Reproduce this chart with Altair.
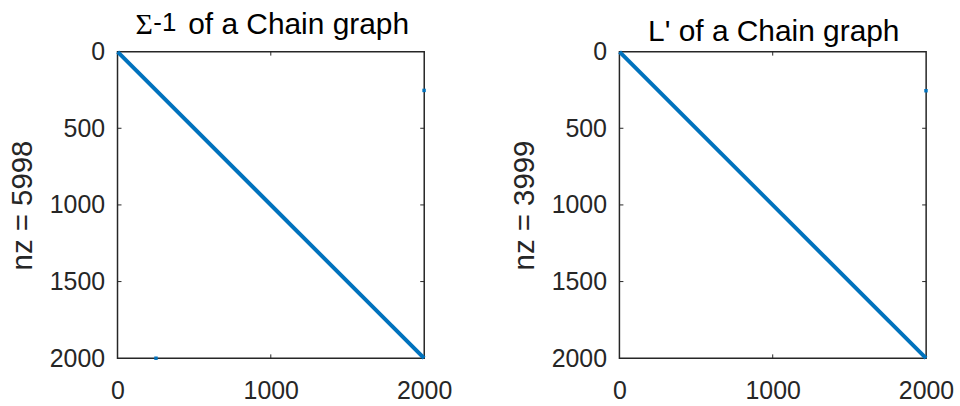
import altair as alt
import pandas as pd

N = 2000
x_ticks = [0, 1000, 2000]
y_ticks = [0, 500, 1000, 1500, 2000]
inner_x_ticks = [1000]
inner_y_ticks = [500, 1000, 1500]

# the main diagonal band of the sparsity pattern (row, column)
diag_rows = [1, 2000]
diag_cols = [1, 2000]

# isolated non-zeros
left_extra_rows = [253, 2000]
left_extra_cols = [2000, 251]
right_extra_rows = [255]
right_extra_cols = [2000]

left_nz = 5998
right_nz = 3999

W = 308
H = 308
BLUE = "#0072BD"
AX = "#262626"
SANS = "Liberation Sans"


def panel(nz, extra_rows, extra_cols, title_parts):
    xs = alt.Scale(domain=[0, N + 1], nice=False, zero=False)
    ys = alt.Scale(domain=[0, N + 1], nice=False, zero=False, reverse=True)
    xaxis = alt.Axis(values=x_ticks, ticks=False, domain=False, grid=False,
                     labelFontSize=25, labelFont=SANS, labelColor=AX,
                     labelPadding=20, labelFlush=False, labelOverlap=False,
                     title=None, format="d")
    yaxis = alt.Axis(values=y_ticks, ticks=False, domain=False, grid=False,
                     labelFontSize=25, labelFont=SANS, labelColor=AX,
                     labelPadding=13, labelFlush=False, labelOverlap=False,
                     title=f"nz = {nz}", titleFontSize=29.5, titleFont=SANS,
                     titleFontWeight="normal", titleColor=AX, titlePadding=12,
                     format="d")
    X = lambda f: alt.X(f, scale=xs, axis=xaxis)
    Y = lambda f: alt.Y(f, scale=ys, axis=yaxis)

    diag = pd.DataFrame({"col": diag_cols, "row": diag_rows})
    extra = pd.DataFrame({"col": extra_cols, "row": extra_rows})

    line = alt.Chart(diag).mark_line(color=BLUE, strokeWidth=4).encode(
        x=X("col:Q"), y=Y("row:Q"))
    dots = alt.Chart(extra).mark_square(color=BLUE, size=12, opacity=1).encode(
        x=X("col:Q"), y=Y("row:Q"))

    xt = pd.DataFrame({"v": inner_x_ticks})
    yt = pd.DataFrame({"v": inner_y_ticks})
    t1 = alt.Chart(xt).mark_rule(color=AX, strokeWidth=1).encode(
        x=X("v:Q"), y=alt.value(0), y2=alt.value(4))
    t2 = alt.Chart(xt).mark_rule(color=AX, strokeWidth=1).encode(
        x=X("v:Q"), y=alt.value(H - 4), y2=alt.value(H))
    t3 = alt.Chart(yt).mark_rule(color=AX, strokeWidth=1).encode(
        y=Y("v:Q"), x=alt.value(0), x2=alt.value(4))
    t4 = alt.Chart(yt).mark_rule(color=AX, strokeWidth=1).encode(
        y=Y("v:Q"), x=alt.value(W - 4), x2=alt.value(W))

    layers = [line, dots, t1, t2, t3, t4]
    for text, font, size, px, py, align in title_parts:
        layers.append(
            alt.Chart(pd.DataFrame({"t": [text]})).mark_text(
                font=font, fontSize=size, align=align, baseline="alphabetic",
                color="#000000").encode(
                text="t:N", x=alt.value(px), y=alt.value(py)))
    return alt.layer(*layers).properties(width=W, height=H)


left = panel(left_nz, left_extra_rows, left_extra_cols, [
    ("Σ", "Liberation Serif", 30, 18, -17.5, "left"),
    ("-1", SANS, 26, 36, -21, "left"),
    ("of a Chain graph", SANS, 30, 71, -17.5, "left"),
])
right = panel(right_nz, right_extra_rows, right_extra_cols, [
    ("L' of a Chain graph", SANS, 30, 155, -10.5, "center"),
])

chart = alt.hconcat(left, right, spacing=196, bounds="flush").properties(
    padding={"left": 6, "top": 8, "right": 5, "bottom": 5}
).configure_view(stroke=AX, strokeWidth=1.5)

chart.save("out.html", embed_options={"renderer": "svg", "actions": False})
